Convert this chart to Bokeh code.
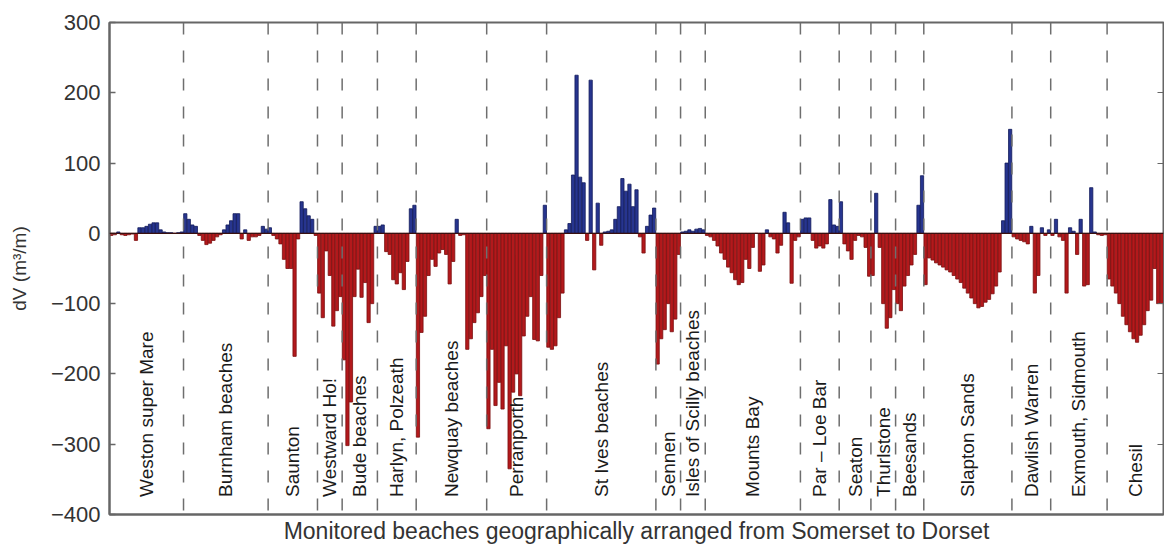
import numpy as np
from bokeh.plotting import figure
from bokeh.models import Range1d, LinearAxis, FixedTicker, Span, ColumnDataSource, LabelSet
from bokeh.embed import file_html
from bokeh.resources import INLINE
from bokeh.core.properties import value

beach_names = ["Weston super Mare", "Burnham beaches", "Saunton", "Westward Ho!",
               "Bude beaches", "Harlyn, Polzeath", "Newquay beaches", "Perranporth",
               "St Ives beaches", "Sennen", "Isles of Scilly beaches", "Mounts Bay",
               "Par \u2013 Loe Bar", "Seaton", "Thurlstone", "Beesands", "Slapton Sands",
               "Dawlish Warren", "Exmouth, Sidmouth", "Chesil"]

weston = [-3, -2, 2, -2, -3, -2, -1, -10, 8, 8, 10, 13, 15, 15, 5, 2, 1, 1, 0, 1, 2]
burnham = [28, 20, 12, 10, -3, -10, -16, -14, -10, -5, -2, 5, 12, 18, 28, 28, -8, 5, -10, -5, -5, -3, 10, 6]
saunton = [8, -3, -8, -15, -37, -50, -50, -175, -8, 45, 35, 25, 20, -3]
westward_ho = [-85, -120, -25, -60, -132, -110, -90]
bude = [-180, -302, -240, -90, -51, -91, -70, -127, -100, 10]
harlyn = [10, 12, -26, -30, -66, -72, -56, -80, -40, 35, 40]
newquay = [-290, -141, -118, -60, -37, -47, -28, -23, -30, -72, -40, 20, -3, -2, -165, -150, -127, -113, -90, -60]
perranporth = [-278, -165, -245, -212, -250, -160, -335, -226, -200, -231, -146, -118, -90, -151, -153, -60, 40]
st_ives = [-162, -165, -160, -120, -85, 5, 14, 83, 225, 80, 72, -10, 218, -52, 43, -17, 2, 3, 5, 20,
           38, 78, 60, 70, 38, 62, -5, -28, 10, 26, 36]
sennen = [-186, -150, -137, -100, -140, -122, -30]
scilly = [2, 3, 5, 3, 6, 7, 5]
mounts_bay = [-3, -5, -10, -18, -28, -37, -48, -56, -66, -73, -70, -37, -50, -20, 0, -54, -45, 5, -5, -8,
              -28, -17, 30, 15, -71, -10, -5]
par_loe = [20, 22, 22, -10, -21, -18, -21, -15, 48, 12, 10]
seaton = [45, -15, -25, -37, -10, -3, -5, -20, -61]
thurlstone = [-60, 57, -20, -100, -135, -120, -80]
beesands = [-100, -110, -75, -60, -45, -30, 40, 82]
slapton = [-73, -35, -38, -42, -45, -48, -52, -55, -60, -65, -70, -78, -85, -92, -100, -106, -104, -98,
           -94, -86, -75, -55, 18, 100, 148]
dawlish = [-5, -8, -10, -12, -15, 10, -85, -60, 8, -3, 5]
exmouth = [-3, 20, -5, -10, -85, 8, 3, -30, 20, -75, -73, 65, 2, -2, -3, -2]
chesil = [-65, -75, -85, -100, -118, -130, -140, -150, -155, -145, -130, -110, -95, -50, -100, -100]

groups = [weston, burnham, saunton, westward_ho, bude, harlyn, newquay, perranporth, st_ives,
          sennen, scilly, mounts_bay, par_loe, seaton, thurlstone, beesands, slapton, dawlish,
          exmouth, chesil]

y_ticks = [-400, -300, -200, -100, 0, 100, 200, 300]

vals = np.concatenate([np.array(g, dtype=float) for g in groups])
n = len(vals)
xs = np.arange(n) + 0.5
counts = np.array([len(g) for g in groups])
bounds = np.cumsum(counts)
starts = bounds - counts
centers = (starts + bounds) / 2.0

BLUE, BLUE_EDGE = "#27358f", "#121a5a"
RED, RED_EDGE = "#b3191c", "#7a0e0e"

src = ColumnDataSource(dict(
    x=xs, top=vals,
    fill=[BLUE if v > 0 else RED for v in vals],
    line=[BLUE_EDGE if v > 0 else RED_EDGE for v in vals],
))

p = figure(width=1164, height=546, x_range=Range1d(0, n), y_range=Range1d(-400, 300),
           output_backend="svg", toolbar_location=None,
           min_border_left=109, min_border_right=1, min_border_top=22, min_border_bottom=30)
p.grid.visible = False
p.outline_line_color = "#666666"
p.outline_line_width = 2
p.background_fill_color = "white"
p.border_fill_color = "white"

# group separators
for b in bounds[:-1]:
    p.add_layout(Span(location=float(b), dimension="height", line_color="#6e6e6e",
                      line_width=1.5, line_dash="12 16"))

p.vbar(x="x", top="top", bottom=0, width=0.92, source=src,
       fill_color="fill", line_color="line", line_width=0.8)

p.add_layout(Span(location=0, dimension="width", line_color="#3a1010", line_width=1.2))

# group labels
lab_src = ColumnDataSource(dict(x=centers, y=[-375] * len(centers), text=beach_names))
p.add_layout(LabelSet(x="x", y="y", text="text", source=lab_src, angle=np.pi / 2,
                      text_align="left", text_baseline="middle",
                      text_font=value("Liberation Sans"), text_font_size=value("19px"),
                      text_color="#1a1a1a"))

# axes
yax = p.yaxis[0]
yax.ticker = FixedTicker(ticks=y_ticks)
yax.major_tick_in = 6
yax.major_tick_out = 0
yax.minor_tick_line_color = None
yax.axis_line_color = "#666666"
yax.axis_line_width = 2
yax.major_tick_line_color = "#666666"
yax.major_tick_line_width = 1.5
yax.major_label_text_font = "Liberation Sans"
yax.major_label_text_font_size = "22px"
yax.major_label_text_color = "#333333"
yax.major_label_standoff = 9
yax.axis_label = "dV (m\u00b3/m)"
yax.axis_label_text_font = "Liberation Sans"
yax.axis_label_text_font_size = "19px"
yax.axis_label_text_font_style = "normal"
yax.axis_label_text_color = "#333333"
yax.axis_label_standoff = 18

xax = p.xaxis[0]
xax.ticker = FixedTicker(ticks=[])
xax.major_tick_out = 0
xax.major_tick_in = 0
xax.minor_tick_line_color = None
xax.axis_line_color = "#666666"
xax.axis_line_width = 2
xax.major_label_standoff = 0
xax.axis_label = "Monitored beaches geographically arranged from Somerset to Dorset"
xax.axis_label_text_font = "Liberation Sans"
xax.axis_label_text_font_size = "23px"
xax.axis_label_text_font_style = "normal"
xax.axis_label_text_color = "#333333"
xax.axis_label_standoff = 3

rax = LinearAxis(ticker=FixedTicker(ticks=y_ticks))
rax.major_tick_in = 6
rax.major_tick_out = 0
rax.minor_tick_line_color = None
rax.major_label_overrides = {t: "" for t in y_ticks}
rax.major_label_standoff = 0
rax.axis_line_color = "#666666"
rax.major_tick_line_color = "#666666"
p.add_layout(rax, "right")

open("out.html", "w").write(file_html(p, INLINE))
